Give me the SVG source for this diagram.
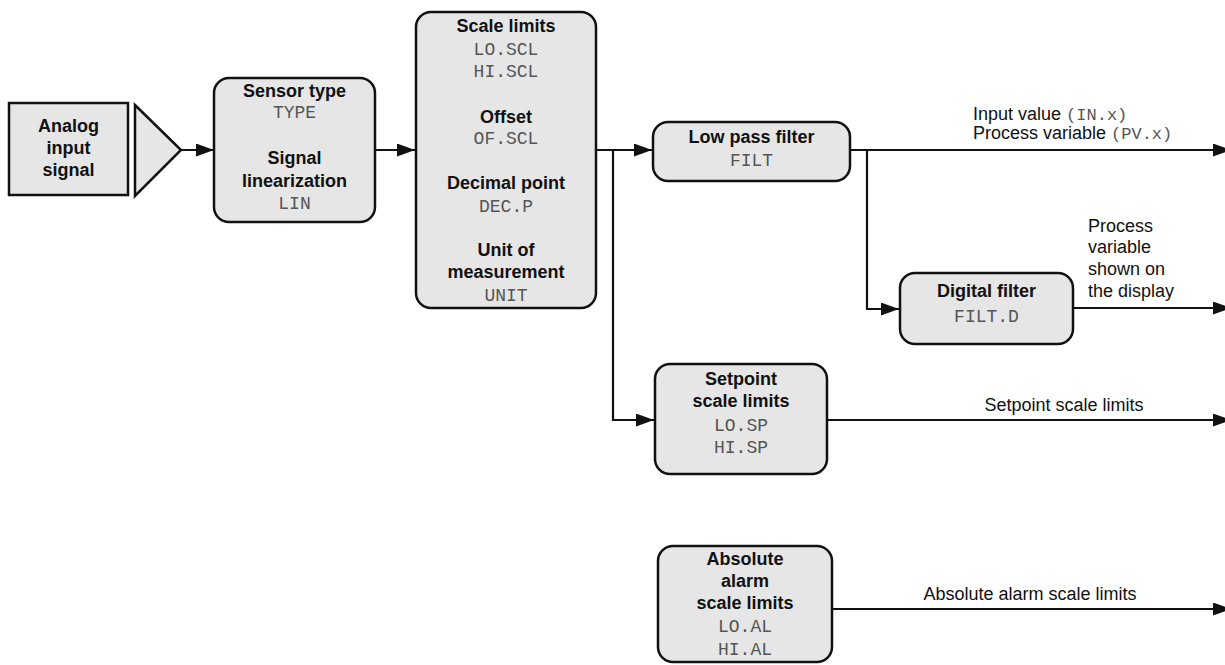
<svg xmlns="http://www.w3.org/2000/svg" width="1225" height="665" viewBox="0 0 1225 665">
<style>
.box{fill:#e6e6e6;stroke:#111;stroke-width:2.5}
.b{font-family:"Liberation Sans",Arial,sans-serif;font-weight:bold;font-size:18px;fill:#111;text-anchor:middle}
.m{font-family:"Liberation Mono","Courier New",monospace;font-size:18px;fill:#555;text-anchor:middle}
.l{font-family:"Liberation Sans",Arial,sans-serif;font-size:18px;fill:#111}
.lm{font-family:"Liberation Mono","Courier New",monospace;font-size:17px;fill:#555}
.c{fill:none;stroke:#111;stroke-width:2.2}
</style>
<defs>
<marker id="ah" markerUnits="userSpaceOnUse" markerWidth="19" markerHeight="14" refX="18" refY="6.5" orient="auto">
<path d="M0,0 L18,6.5 L0,13 z" fill="#111"/>
</marker>
</defs>
<rect width="1225" height="665" fill="#fff"/>
<g id="connectors">
<path class="c" d="M181,150 H214" marker-end="url(#ah)"/>
<path class="c" d="M375,150 H415" marker-end="url(#ah)"/>
<path class="c" d="M596,150 H652" marker-end="url(#ah)"/>
<path class="c" d="M613,150 V420 H654" marker-end="url(#ah)"/>
<path class="c" d="M850,150 H1231" marker-end="url(#ah)"/>
<path class="c" d="M867,150 V309 H899" marker-end="url(#ah)"/>
<path class="c" d="M1073,308 H1231" marker-end="url(#ah)"/>
<path class="c" d="M827,420 H1231" marker-end="url(#ah)"/>
<path class="c" d="M832,609 H1231" marker-end="url(#ah)"/>
</g>
<g id="labels">
<text class="l" x="973" y="120">Input value  <tspan class="lm">(IN.x)</tspan></text>
<text class="l" x="973" y="139">Process variable  <tspan class="lm">(PV.x)</tspan></text>
<text class="l" x="1088" y="232">Process</text>
<text class="l" x="1088" y="253">variable</text>
<text class="l" x="1088" y="275">shown on</text>
<text class="l" x="1088" y="297">the display</text>
<text class="l" x="1064" y="411" text-anchor="middle">Setpoint scale limits</text>
<text class="l" x="1030" y="600" text-anchor="middle">Absolute alarm scale limits</text>
</g>
<g id="analog">
<rect class="box" x="9" y="103" width="119" height="92"/>
<text class="b" x="68.5" y="132">Analog</text>
<text class="b" x="68.5" y="154">input</text>
<text class="b" x="68.5" y="176">signal</text>
</g>
<g id="amplifier">
<path class="box" d="M135,105 L181,150 L135,196 z"/>
</g>
<g id="sensor">
<rect class="box" x="214" y="78" width="161" height="144" rx="15"/>
<text class="b" x="294.5" y="97">Sensor type</text>
<text class="m" x="294.5" y="118">TYPE</text>
<text class="b" x="294.5" y="164">Signal</text>
<text class="b" x="294.5" y="187">linearization</text>
<text class="m" x="294.5" y="209">LIN</text>
</g>
<g id="scale">
<rect class="box" x="416" y="12" width="180" height="296" rx="15"/>
<text class="b" x="506" y="32">Scale limits</text>
<text class="m" x="506" y="55">LO.SCL</text>
<text class="m" x="506" y="77">HI.SCL</text>
<text class="b" x="506" y="123">Offset</text>
<text class="m" x="506" y="144">OF.SCL</text>
<text class="b" x="506" y="189">Decimal point</text>
<text class="m" x="506" y="212">DEC.P</text>
<text class="b" x="506" y="256">Unit of</text>
<text class="b" x="506" y="278">measurement</text>
<text class="m" x="506" y="301">UNIT</text>
</g>
<g id="lowpass">
<rect class="box" x="653" y="122" width="197" height="59" rx="15"/>
<text class="b" x="751.5" y="143">Low pass filter</text>
<text class="m" x="751.5" y="166">FILT</text>
</g>
<g id="digital">
<rect class="box" x="900" y="273" width="173" height="71" rx="15"/>
<text class="b" x="986.5" y="297">Digital filter</text>
<text class="m" x="986.5" y="322">FILT.D</text>
</g>
<g id="setpoint">
<rect class="box" x="655" y="364" width="172" height="110" rx="15"/>
<text class="b" x="741" y="385">Setpoint</text>
<text class="b" x="741" y="407">scale limits</text>
<text class="m" x="741" y="431">LO.SP</text>
<text class="m" x="741" y="453">HI.SP</text>
</g>
<g id="absolute">
<rect class="box" x="658" y="546" width="174" height="116" rx="15"/>
<text class="b" x="745" y="565">Absolute</text>
<text class="b" x="745" y="587">alarm</text>
<text class="b" x="745" y="609">scale limits</text>
<text class="m" x="745" y="632">LO.AL</text>
<text class="m" x="745" y="655">HI.AL</text>
</g>
</svg>
